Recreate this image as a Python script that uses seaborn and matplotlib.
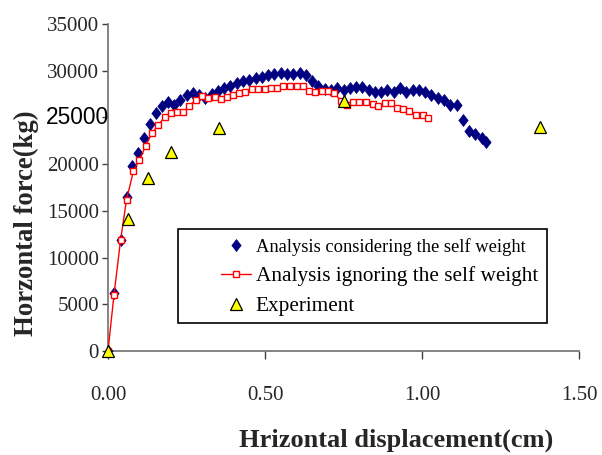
import matplotlib
matplotlib.use("Agg")
import matplotlib.pyplot as plt
import matplotlib.patches as mpatches
import pandas as pd
import seaborn as sns

# analysis considering the self weight (blue diamonds)
selfX = [0.000, 0.019, 0.040, 0.059, 0.078, 0.096, 0.115, 0.134, 0.153, 0.172,
         0.190, 0.210, 0.230, 0.250, 0.270, 0.290, 0.310, 0.330, 0.350, 0.370,
         0.390, 0.410, 0.430, 0.450, 0.470, 0.490, 0.510, 0.530, 0.550, 0.570,
         0.590, 0.610, 0.630, 0.650, 0.670, 0.690, 0.710, 0.730, 0.750, 0.770,
         0.790, 0.810, 0.830, 0.850, 0.870, 0.890, 0.910, 0.930, 0.950, 0.970,
         0.990, 1.010, 1.030, 1.050, 1.070, 1.090, 1.110, 1.130, 1.150, 1.170,
         1.190, 1.203]
selfY = [0, 6200, 11900, 16500, 19800, 21200, 22800, 24300, 25500, 26200,
         26700, 26300, 26900, 27400, 27650, 27400, 27100, 27500, 27800, 28100,
         28400, 28650, 28850, 29050, 29200, 29350, 29500, 29650, 29750, 29600,
         29700, 29750, 29550, 28950, 28350, 28000, 27900, 28100, 27900, 28100,
         28300, 28300, 27900, 27750, 27750, 27950, 27750, 28150, 27750, 27950,
         27900, 27750, 27350, 27100, 26850, 26350, 26350, 24750, 23550, 23200,
         22750, 22400]

# analysis ignoring the self weight (red squares + line)
noSelfX = [0.000, 0.019, 0.040, 0.059, 0.081, 0.100, 0.120, 0.140, 0.160, 0.180,
           0.200, 0.220, 0.240, 0.259, 0.280, 0.300, 0.320, 0.341, 0.359, 0.380,
           0.399, 0.418, 0.437, 0.458, 0.479, 0.500, 0.519, 0.539, 0.558, 0.580,
           0.601, 0.620, 0.641, 0.659, 0.680, 0.700, 0.720, 0.741, 0.760, 0.781,
           0.800, 0.821, 0.843, 0.859, 0.882, 0.901, 0.919, 0.940, 0.960, 0.981,
           1.002, 1.018]
noSelfY = [0, 6000, 11850, 16200, 19250, 20450, 21950, 23300, 24200, 25000,
           25450, 25600, 25600, 26250, 26850, 27250, 27050, 27150, 26950, 27150,
           27400, 27650, 27750, 28000, 28000, 28000, 28150, 28150, 28400, 28400,
           28400, 28400, 27800, 27750, 27850, 27850, 27650, 26800, 26350, 26700,
           26700, 26650, 26400, 26200, 26500, 26500, 26050, 25850, 25650, 25250,
           25250, 24900]

# experiment (yellow triangles)
expX = [0.000, 0.065, 0.128, 0.200, 0.353, 0.753, 1.376]
expY = [0, 14100, 18500, 21300, 23900, 26750, 23950]

yTicks = [0, 5000, 10000, 15000, 20000, 25000, 30000, 35000]
xTicks = [0.0, 0.5, 1.0, 1.5]

serif = "Liberation Serif"
diamond = [(0, -1), (0.78, 0), (0, 1), (-0.78, 0), (0, -1)]


def main():
    sns.set_theme(style="white")
    plt.rcParams['font.family'] = [serif, 'DejaVu Serif']
    plt.rcParams['text.color'] = 'black'

    dfSelf = pd.DataFrame({"x": selfX, "y": selfY})
    dfNoSelf = pd.DataFrame({"x": noSelfX, "y": noSelfY})
    dfExp = pd.DataFrame({"x": expX, "y": expY})

    fig = plt.figure(figsize=(6.02, 4.55), dpi=100)
    ax = fig.add_axes([108 / 602, 1 - 351 / 455, 471 / 602, 327 / 455])

    ax.plot(dfSelf["x"], dfSelf["y"], linestyle='none', marker=diamond,
            markersize=8.6, color='#000080', mec='#000080', mew=0.5, zorder=3,
            label='Analysis considering the self weight')
    sns.lineplot(x="x", y="y", data=dfNoSelf, ax=ax, color='#FF0000',
                 linewidth=1, marker='s', markersize=4.5, markerfacecolor='white',
                 markeredgecolor='#FF0000', markeredgewidth=1, zorder=4,
                 label='Analysis ignoring the self weight', legend=False)
    ax.plot(dfExp["x"], dfExp["y"], linestyle='none', marker='^',
            markersize=8.5, color='#FFFF00', mec='black', mew=0.9, zorder=5,
            clip_on=False, label='Experiment')

    ax.set_xlim(0, 1.5)
    ax.set_ylim(0, 35000)
    ax.set_xticks(xTicks)
    ax.set_xticklabels(["%.2f" % v for v in xTicks])
    ax.set_yticks(yTicks)
    ax.set_yticklabels(["" if v == 25000 else str(v) for v in yTicks])
    # the odd oversized tick label of the original
    ax.text(1 / 471, 25000, "25000",
            transform=ax.get_yaxis_transform(), ha='right', va='center',
            fontsize=16.4, family='Liberation Sans', color='black', zorder=6)

    for side in ['top', 'right']:
        ax.spines[side].set_visible(False)
    for side in ['left', 'bottom']:
        ax.spines[side].set_color('#707070')
        ax.spines[side].set_linewidth(1.2)
    ax.tick_params(axis='y', direction='out', length=4.5, width=1,
                   color='#404040', labelsize=15, pad=2, left=True)
    ax.tick_params(axis='x', direction='out', length=6, width=1,
                   color='#404040', labelsize=15, pad=19, bottom=True)

    ax.set_xlabel("Hrizontal displacement(cm)", fontsize=19,
                  fontweight='bold')
    ax.xaxis.set_label_coords((396 - 108) / 471, (351 - 447) / 327)
    ax.xaxis.label.set_verticalalignment('baseline')
    ax.set_ylabel("Horzontal force(kg)", fontsize=19.2, fontweight='bold')
    ax.yaxis.set_label_coords((39 - 108) / 471, (351 - 223) / 327)

    leg = ax.legend(loc='upper left', frameon=False,
                    bbox_to_anchor=(211 / 602, 1 - 227 / 455),
                    bbox_transform=fig.transFigure, borderpad=0,
                    handlelength=1.4, handletextpad=0.25, labelspacing=0.5,
                    fontsize=15)
    sizes = [13.35, 15.3, 15.3]
    for txt, s in zip(leg.get_texts(), sizes):
        txt.set_fontsize(s)
    fig.patches.append(mpatches.Rectangle((178 / 602, 1 - 323 / 455),
                                          369 / 602, 94 / 455,
                                          transform=fig.transFigure,
                                          fill=False, edgecolor='black',
                                          linewidth=1.2))

    plt.savefig("out.png", dpi=100)
    plt.close()


if __name__ == '__main__':
    main()
